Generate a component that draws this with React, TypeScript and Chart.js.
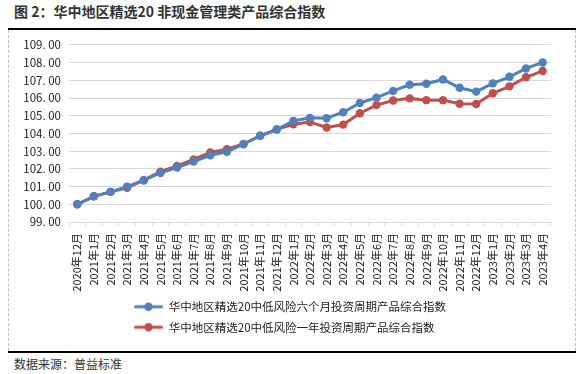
import React, { useEffect, useRef } from "react";
import { Chart, registerables } from "chart.js";

Chart.register(...registerables);

const TITLE = "图 2：华中地区精选20 非现金管理类产品综合指数";
const SOURCE = "数据来源：普益标准";

const categories = [
  "2020年12月", "2021年1月", "2021年2月", "2021年3月", "2021年4月", "2021年5月",
  "2021年6月", "2021年7月", "2021年8月", "2021年9月", "2021年10月", "2021年11月",
  "2021年12月", "2022年1月", "2022年2月", "2022年3月", "2022年4月", "2022年5月",
  "2022年6月", "2022年7月", "2022年8月", "2022年9月", "2022年10月", "2022年11月",
  "2022年12月", "2023年1月", "2023年2月", "2023年3月", "2023年4月",
];

const seriesSixMonth = [
  100.0, 100.45, 100.7, 101.0, 101.36, 101.77, 102.08, 102.41, 102.77, 102.97,
  103.39, 103.87, 104.22, 104.71, 104.88, 104.86, 105.2, 105.72, 106.02, 106.4,
  106.75, 106.81, 107.05, 106.58, 106.36, 106.83, 107.2, 107.67, 108.01,
];

const seriesOneYear = [
  100.0, 100.45, 100.7, 100.93, 101.36, 101.84, 102.17, 102.53, 102.93, 103.11,
  103.41, 103.87, 104.23, 104.52, 104.64, 104.34, 104.5, 105.14, 105.6, 105.86,
  105.98, 105.88, 105.88, 105.68, 105.66, 106.27, 106.66, 107.17, 107.53,
];

const seriesNames = [
  "华中地区精选20中低风险六个月投资周期产品综合指数",
  "华中地区精选20中低风险一年投资周期产品综合指数",
];
const seriesColors = ["#4F81BD", "#C0504D"];

const yMin = 99;
const yMax = 109;
const yStep = 1;

const FONT = "'Noto Sans CJK SC', 'Liberation Sans', sans-serif";

function legendIcon(color: string): HTMLCanvasElement {
  const c = document.createElement("canvas");
  c.width = 29;
  c.height = 10;
  const ctx = c.getContext("2d")!;
  ctx.strokeStyle = color;
  ctx.lineWidth = 3;
  ctx.lineCap = "round";
  ctx.beginPath();
  ctx.moveTo(1.5, 5);
  ctx.lineTo(27.5, 5);
  ctx.stroke();
  ctx.fillStyle = color;
  ctx.beginPath();
  ctx.arc(14.5, 5, 4.2, 0, Math.PI * 2);
  ctx.fill();
  return c;
}

// Make both legend rows share one start x (as in the reference), centred under the plot.
const alignLegendRows = {
  id: "alignLegendRows",
  afterUpdate(chart: any) {
    const lg = chart.legend;
    if (lg && lg.lineWidths && lg.lineWidths.length) {
      const m = Math.max(...lg.lineWidths);
      lg.lineWidths = lg.lineWidths.map(() => m - 20);
    }
  },
};

export default function App() {
  const ref = useRef<HTMLCanvasElement>(null);
  useEffect(() => {
    if (!ref.current) return;
    const icons = seriesColors.map(legendIcon);
    const chart = new Chart(ref.current, {
      type: "line",
      plugins: [alignLegendRows],
      data: {
        labels: categories,
        datasets: [seriesSixMonth, seriesOneYear].map((d, i) => ({
          label: seriesNames[i],
          data: d,
          borderColor: seriesColors[i],
          backgroundColor: seriesColors[i],
          borderWidth: 3,
          pointRadius: 4.2,
          pointHoverRadius: 4.2,
          pointBorderWidth: 0,
          pointBackgroundColor: seriesColors[i],
          tension: 0,
        })),
      },
      options: {
        responsive: false,
        animation: false,
        layout: { padding: { left: 0, right: 24, top: 13, bottom: 8 } },
        plugins: {
          legend: {
            position: "bottom",
            align: "center",
            labels: {
              usePointStyle: true,
              pointStyleWidth: 29,
              padding: 9,
              color: "#222",
              font: { family: FONT, size: 11.5 },
              generateLabels: (ch: any) =>
                ch.data.datasets.map((ds: any, i: number) => ({
                  text: ds.label,
                  fillStyle: seriesColors[i],
                  strokeStyle: seriesColors[i],
                  pointStyle: icons[i],
                  lineWidth: 0,
                  hidden: false,
                  datasetIndex: i,
                  fontColor: "#222",
                })),
            },
          },
          tooltip: { enabled: false },
        },
        scales: {
          x: {
            offset: true,
            grid: {
              display: true,
              offset: true,
              drawOnChartArea: false,
              drawTicks: true,
              tickLength: 4,
              color: "#D9D9D9",
            },
            border: { display: true, color: "#D9D9D9" },
            ticks: {
              autoSkip: false,
              maxRotation: 90,
              minRotation: 90,
              padding: 7,
              color: "#222",
              font: { family: FONT, size: 11 },
            },
            afterFit: (s: any) => {
              s.height = 70;
            },
          },
          y: {
            min: yMin,
            max: yMax,
            grid: { color: "#D9D9D9", drawTicks: false, lineWidth: 1 },
            border: { display: false },
            ticks: {
              stepSize: yStep,
              padding: 8,
              color: "#222",
              font: { family: FONT, size: 11.5 },
              callback: (v: any) => Number(v).toFixed(2).replace(".", ". "),
            },
            afterFit: (s: any) => {
              s.width = 60;
            },
          },
        },
      },
    });
    return () => chart.destroy();
  }, []);

  return (
    <div
      style={{
        position: "absolute",
        left: 0,
        top: 0,
        width: 584,
        height: 374,
        background: "#fff",
        fontFamily: FONT,
      }}
    >
      <div
        style={{
          position: "absolute",
          left: 14,
          top: 1,
          fontSize: 14,
          fontWeight: "bold",
          color: "#333",
          whiteSpace: "nowrap",
          lineHeight: "20px",
        }}
      >
        {TITLE}
      </div>
      <div
        style={{
          position: "absolute",
          left: 8,
          top: 28,
          width: 568,
          height: 0,
          borderTop: "2px solid #000",
        }}
      />
      <div
        style={{
          position: "absolute",
          left: 8,
          top: 30,
          width: 0,
          height: 321,
          borderLeft: "1px dashed #BFBFBF",
        }}
      />
      <div
        style={{
          position: "absolute",
          left: 575,
          top: 30,
          width: 0,
          height: 321,
          borderLeft: "1px dashed #BFBFBF",
        }}
      />
      <canvas
        ref={ref}
        width={566}
        height={321}
        style={{ position: "absolute", left: 9, top: 30, width: 566, height: 321 }}
      />
      <div
        style={{
          position: "absolute",
          left: 8,
          top: 351,
          width: 568,
          height: 0,
          borderTop: "2px solid #000",
        }}
      />
      <div
        style={{
          position: "absolute",
          left: 14,
          top: 355,
          fontSize: 12,
          color: "#333",
          whiteSpace: "nowrap",
          lineHeight: "17px",
        }}
      >
        {SOURCE}
      </div>
    </div>
  );
}
